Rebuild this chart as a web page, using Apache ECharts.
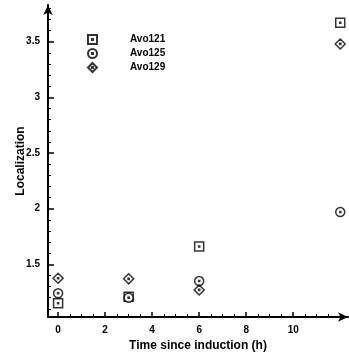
<!DOCTYPE html>
<html>
<head>
<meta charset="utf-8">
<script src="https://cdn.jsdelivr.net/npm/echarts@6/dist/echarts.min.js"></script>
<style>
  html, body { margin: 0; padding: 0; background: #fff; }
  #container { width: 349px; height: 354px; }
</style>
</head>
<body>
<div id="container"></div>
<script>
var dom = document.getElementById("container");
var myChart = echarts.init(dom);

// data
var times = [0, 3, 6, 12];
var avo121 = [1.15, 1.21, 1.66, 3.67];
var avo125 = [1.24, 1.20, 1.35, 1.97];
var avo129 = [1.375, 1.37, 1.27, 3.48];

var xLabels = [0, 2, 4, 6, 8, 10];
var xMinor = [0.5, 1, 1.5, 2.5, 3, 3.5, 4.5, 5, 5.5, 6.5, 7, 7.5, 8.5, 9, 9.5, 10.5, 11, 11.5, 12];
var yLabels = [1.5, 2, 2.5, 3, 3.5];
var yMinor = [1.1, 1.2, 1.3, 1.4, 1.6, 1.7, 1.8, 1.9, 2.1, 2.2, 2.3, 2.4, 2.6, 2.7, 2.8, 2.9,
    3.1, 3.2, 3.3, 3.4, 3.6, 3.7, 3.8];

var sqSym = 'path://M0,0H10V10H0Z M4.4,4.4H5.6V5.6H4.4Z';
var ciSym = 'path://M5,0A5,5 0 1,1 5,10A5,5 0 1,1 5,0Z M4.4,4.4H5.6V5.6H4.4Z';
var diSym = 'path://M5,0L10,5L5,10L0,5Z M4.4,4.4H5.6V5.6H4.4Z';

function pairs(ys) {
    return times.map(function (t, i) { return [t, ys[i]]; });
}

var labelFont = { fontFamily: 'Liberation Sans', fontWeight: 'bold', fontSize: 10, color: '#000' };

option = {
    animation: false,
    backgroundColor: '#fff',
    legend: {
        orient: 'vertical',
        left: 82,
        top: 29,
        itemWidth: 9,
        itemHeight: 9,
        itemGap: 3,
        data: ['Avo121', 'Avo125', 'Avo129'],
        textStyle: {
            fontFamily: 'Liberation Sans',
            fontWeight: 'bold',
            fontSize: 10,
            color: '#000',
            padding: [0, 0, 0, 28]
        }
    },
    grid: {
        left: 48,
        top: 5,
        width: 300,
        height: 312,
        outerBoundsMode: 'none'
    },
    xAxis: [{
        type: 'value',
        min: -0.43,
        max: 12.33,
        offset: 0,
        name: 'Time since induction (h)',
        nameLocation: 'middle',
        nameGap: 21,
        nameTextStyle: { fontFamily: 'Liberation Sans', fontWeight: 'bold', fontSize: 12, color: '#000' },
        axisLine: {
            onZero: false,
            symbol: ['none', 'arrow'],
            symbolSize: [7, 10],
            lineStyle: { color: '#000', width: 2 }
        },
        axisTick: { inside: true, length: 5, customValues: xLabels, lineStyle: { color: '#000', width: 1.5 } },
        axisLabel: Object.assign({ margin: 8, customValues: xLabels }, labelFont),
        splitLine: { show: false }
    }, {
        type: 'value',
        position: 'bottom',
        offset: 0,
        min: -0.43,
        max: 12.33,
        axisLine: { show: false, onZero: false },
        axisTick: { inside: true, length: 3, customValues: xMinor, lineStyle: { color: '#000', width: 1 } },
        axisLabel: { show: false },
        splitLine: { show: false }
    }],
    yAxis: [{
        type: 'value',
        min: 1.027,
        max: 3.83,
        offset: 0,
        name: 'Localization',
        nameLocation: 'middle',
        nameGap: 21,
        nameMoveOverlap: false,
        nameTextStyle: { fontFamily: 'Liberation Sans', fontWeight: 'bold', fontSize: 12, color: '#000' },
        axisLine: {
            show: true,
            onZero: false,
            symbol: ['none', 'arrow'],
            symbolSize: [7, 10],
            lineStyle: { color: '#000', width: 2 }
        },
        axisTick: { inside: true, length: 6, customValues: yLabels, lineStyle: { color: '#000', width: 1.5 } },
        axisLabel: Object.assign({ margin: 8, customValues: yLabels }, labelFont),
        splitLine: { show: false }
    }, {
        type: 'value',
        position: 'left',
        offset: 0,
        min: 1.027,
        max: 3.83,
        axisLine: { show: false, onZero: false },
        axisTick: { inside: true, length: 3, customValues: yMinor, lineStyle: { color: '#000', width: 1 } },
        axisLabel: { show: false },
        splitLine: { show: false }
    }],
    series: [{
        name: 'Avo121',
        type: 'scatter',
        symbol: sqSym,
        symbolSize: 9,
        itemStyle: { color: '#fff', borderColor: '#000', borderWidth: 1.5 },
        data: pairs(avo121)
    }, {
        name: 'Avo125',
        type: 'scatter',
        symbol: ciSym,
        symbolSize: 9,
        itemStyle: { color: '#fff', borderColor: '#000', borderWidth: 1.5 },
        data: pairs(avo125)
    }, {
        name: 'Avo129',
        type: 'scatter',
        symbol: diSym,
        symbolSize: 10,
        itemStyle: { color: '#fff', borderColor: '#000', borderWidth: 1.5 },
        data: pairs(avo129)
    }]
};

myChart.setOption(option, true);
</script>
</body>
</html>
